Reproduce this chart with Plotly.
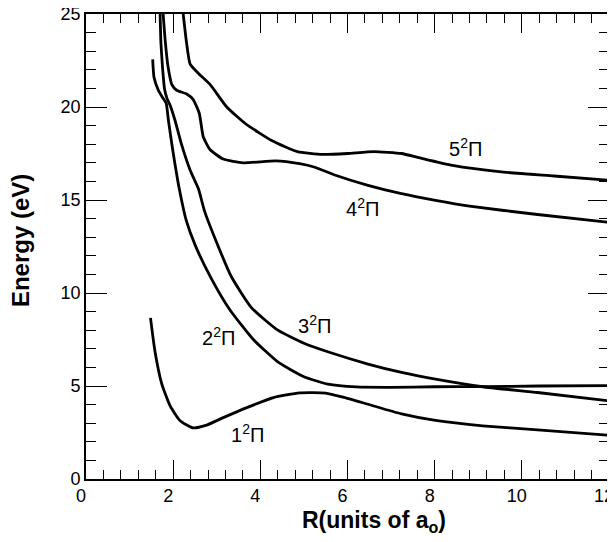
import plotly.graph_objects as go

# Potential curves (R in a0, energy in eV)
r_1pi = [1.48, 1.58, 1.74, 1.93, 2.16, 2.45, 2.75, 3.15, 3.69, 4.3, 4.9, 5.5, 5.9, 6.47, 7.24, 8.02, 9.1, 10.36, 12.0]
e_1pi = [8.66, 6.9, 5.1, 3.93, 3.13, 2.75, 2.88, 3.3, 3.84, 4.38, 4.63, 4.62, 4.4, 4.02, 3.5, 3.15, 2.86, 2.64, 2.35]

r_2pi = [1.53, 1.56, 1.66, 1.76, 1.84, 1.89, 1.97, 2.04, 2.14, 2.3, 2.5, 2.87, 3.3, 3.84, 4.4, 5.0, 5.55, 6.2, 7.0, 8.0, 9.1, 10.4, 12.0]
e_2pi = [22.56, 21.6, 20.9, 20.5, 20.2, 19.3, 18.0, 16.95, 15.6, 13.9, 12.6, 10.8, 9.1, 7.5, 6.3, 5.5, 5.1, 4.95, 4.93, 4.96, 4.97, 5.0, 5.02]

r_3pi = [1.70, 1.72, 1.76, 1.80, 1.86, 1.93, 2.04, 2.19, 2.39, 2.58, 2.72, 3.0, 3.33, 3.8, 4.4, 5.0, 5.6, 6.47, 7.24, 8.02, 9.1, 10.36, 12.0]
e_3pi = [25.0, 23.4, 22.0, 21.0, 20.45, 20.1, 19.3, 18.0, 16.6, 15.6, 14.4, 12.7, 10.9, 9.2, 8.0, 7.3, 6.8, 6.18, 5.73, 5.37, 4.96, 4.65, 4.2]

r_4pi = [1.77, 1.82, 1.88, 1.97, 2.08, 2.31, 2.46, 2.60, 2.69, 2.85, 3.15, 3.61, 4.35, 4.9, 5.25, 5.69, 6.47, 7.24, 8.02, 8.8, 10.36, 12.0]
e_4pi = [25.0, 23.5, 22.2, 21.2, 20.9, 20.7, 20.4, 19.65, 18.4, 17.7, 17.2, 17.0, 17.1, 16.95, 16.76, 16.36, 15.79, 15.34, 14.98, 14.67, 14.22, 13.8]

r_5pi = [2.23, 2.31, 2.39, 2.58, 2.85, 3.23, 3.66, 4.26, 4.85, 5.43, 6.0, 6.6, 7.24, 7.63, 8.41, 9.58, 10.74, 12.0]
e_5pi = [25.0, 23.4, 22.3, 21.8, 21.2, 20.0, 19.1, 18.2, 17.6, 17.45, 17.5, 17.6, 17.5, 17.28, 16.86, 16.5, 16.29, 16.06]

curves = [(r_1pi, e_1pi), (r_2pi, e_2pi), (r_3pi, e_3pi), (r_4pi, e_4pi), (r_5pi, e_5pi)]

label_text = ["1<sup>2</sup>Π", "2<sup>2</sup>Π", "3<sup>2</sup>Π", "4<sup>2</sup>Π", "5<sup>2</sup>Π"]
label_r = [3.7, 3.04, 5.25, 6.34, 8.7]
label_e = [2.45, 7.65, 8.3, 14.6, 17.8]

x_tick_vals = [0, 2, 4, 6, 8, 10, 12]
y_tick_vals = [0, 5, 10, 15, 20, 25]

FONT = "Liberation Sans, Arial, sans-serif"

fig = go.Figure()
for r, e in curves:
    fig.add_trace(go.Scatter(x=r, y=e, mode="lines",
                             line=dict(color="black", width=2.8, shape="spline", smoothing=0.5),
                             showlegend=False, hoverinfo="skip", cliponaxis=True))

for t, xr, ye in zip(label_text, label_r, label_e):
    fig.add_annotation(x=xr, y=ye, text=t, showarrow=False,
                       font=dict(family=FONT, size=20, color="black"))

# axis titles as annotations for precise placement
fig.add_annotation(x=0.55, y=-0.092, xref="paper", yref="paper",
                   text="<b>R(units of a<sub>o</sub>)</b>", showarrow=False,
                   xanchor="center", yanchor="middle",
                   font=dict(family=FONT, size=23, color="black"))
fig.add_annotation(x=-0.125, y=0.513, xref="paper", yref="paper",
                   text="<b>Energy (eV)</b>", showarrow=False, textangle=-90,
                   xanchor="center", yanchor="middle",
                   font=dict(family=FONT, size=24, color="black"))

axis_common = dict(
    showgrid=False, zeroline=False, showline=True, linecolor="black", linewidth=1.6,
    mirror="ticks", ticks="inside", tickcolor="black", tickwidth=1.4, automargin=False,
    ticklabeloverflow="allow",
    tickfont=dict(family=FONT, size=18, color="black"),
)

fig.update_xaxes(range=[0, 12], tickvals=x_tick_vals, ticklen=19, ticklabelshift=-5,
                 minor=dict(dtick=0.4, tick0=0, ticks="inside", ticklen=9, tickwidth=1.4, tickcolor="black"),
                 **axis_common)
fig.update_yaxes(range=[0, 25], tickvals=y_tick_vals, ticklen=21,
                 minor=dict(dtick=1, tick0=0, ticks="inside", ticklen=10, tickwidth=1.4, tickcolor="black"),
                 **axis_common)

# page body has an 8px default margin, so the figure is 8px smaller each way
fig.update_layout(width=607, height=534, margin=dict(l=78, r=6, t=6, b=63),
                  plot_bgcolor="white", paper_bgcolor="white")

fig.write_html("out.html")
